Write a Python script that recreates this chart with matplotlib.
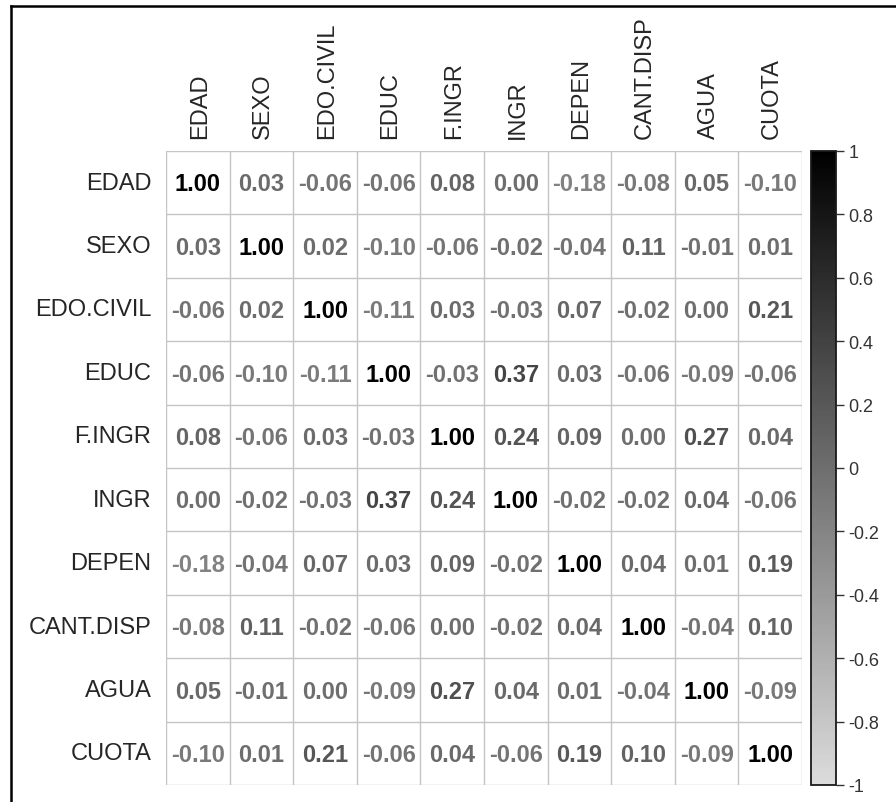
import numpy as np
import matplotlib
matplotlib.use("Agg")
import matplotlib.pyplot as plt
from matplotlib.colors import LinearSegmentedColormap, Normalize
from matplotlib.cm import ScalarMappable
from matplotlib.lines import Line2D

plt.rcParams["font.family"] = ["Liberation Sans", "DejaVu Sans"]
plt.rcParams["axes.unicode_minus"] = False

# variables and correlation matrix
variables = ["EDAD", "SEXO", "EDO.CIVIL", "EDUC", "F.INGR", "INGR",
             "DEPEN", "CANT.DISP", "AGUA", "CUOTA"]

r_edad = [1.00, 0.03, -0.06, -0.06, 0.08, 0.00, -0.18, -0.08, 0.05, -0.10]
r_sexo = [0.03, 1.00, 0.02, -0.10, -0.06, -0.02, -0.04, 0.11, -0.01, 0.01]
r_civil = [-0.06, 0.02, 1.00, -0.11, 0.03, -0.03, 0.07, -0.02, 0.00, 0.21]
r_educ = [-0.06, -0.10, -0.11, 1.00, -0.03, 0.37, 0.03, -0.06, -0.09, -0.06]
r_fingr = [0.08, -0.06, 0.03, -0.03, 1.00, 0.24, 0.09, 0.00, 0.27, 0.04]
r_ingr = [0.00, -0.02, -0.03, 0.37, 0.24, 1.00, -0.02, -0.02, 0.04, -0.06]
r_depen = [-0.18, -0.04, 0.07, 0.03, 0.09, -0.02, 1.00, 0.04, 0.01, 0.19]
r_cant = [-0.08, 0.11, -0.02, -0.06, 0.00, -0.02, 0.04, 1.00, -0.04, 0.10]
r_agua = [0.05, -0.01, 0.00, -0.09, 0.27, 0.04, 0.01, -0.04, 1.00, -0.09]
r_cuota = [-0.10, 0.01, 0.21, -0.06, 0.04, -0.06, 0.19, 0.10, -0.09, 1.00]

corr = np.array([r_edad, r_sexo, r_civil, r_educ, r_fingr,
                 r_ingr, r_depen, r_cant, r_agua, r_cuota])

cbar_ticks = [1, 0.8, 0.6, 0.4, 0.2, 0, -0.2, -0.4, -0.6, -0.8, -1]
cbar_labels = ["1", "0.8", "0.6", "0.4", "0.2", "0",
               "-0.2", "-0.4", "-0.6", "-0.8", "-1"]

W, H = 896, 803
cmap = LinearSegmentedColormap.from_list("greys", ["#dcdcdc", "#000000"])
norm = Normalize(-1, 1)
GRID = "#c4c4c4"
LABEL = "#262626"

fig = plt.figure(figsize=(W / 100, H / 100), dpi=100)

# pixel box -> figure fraction
def px_box(x0, y0, x1, y1):
    return [x0 / W, 1 - y1 / H, (x1 - x0) / W, (y1 - y0) / H]

ax = fig.add_axes(px_box(166, 152, 802, 786))
n = len(variables)
ax.set_xlim(0, n)
ax.set_ylim(n, 0)
for k in range(n + 1):
    ax.axhline(k, color=GRID, lw=1.0)
    ax.axvline(k, color=GRID, lw=1.0)

for i in range(n):
    for j in range(n):
        v = corr[i, j]
        ax.text(j + 0.5, i + 0.52, f"{v:.2f}", ha="center", va="center",
                fontsize=17, fontweight="bold", color=cmap(norm(v)))

ax.set_xticks([])
ax.set_yticks([])
for s in ax.spines.values():
    s.set_visible(False)

# row labels
for i, name in enumerate(variables):
    ax.text(-0.23, i + 0.5, name, ha="right", va="center",
            fontsize=17, color=LABEL)
# column labels
for j, name in enumerate(variables):
    ax.text(j + 0.53, -0.2, name, ha="center", va="bottom", rotation=90,
            fontsize=17, color=LABEL)

# colour legend
cax = fig.add_axes(px_box(811, 152, 836, 786))
sm = ScalarMappable(norm=norm, cmap=cmap)
cb = fig.colorbar(sm, cax=cax, ticks=cbar_ticks)
cb.ax.set_yticklabels(cbar_labels)
cb.outline.set_edgecolor("#1a1a1a")
cb.outline.set_linewidth(1.3)
cb.ax.tick_params(length=6, width=1.0, color="#333333", labelsize=13,
                  labelcolor="#333333", pad=3)

# frame of the screenshot (left and top edges)
fig.add_artist(Line2D([10.5 / W, 10.5 / W], [0, 1 - 6.5 / H],
                      transform=fig.transFigure, color="black", lw=1.8))
fig.add_artist(Line2D([10.5 / W, 1], [1 - 6.5 / H, 1 - 6.5 / H],
                      transform=fig.transFigure, color="black", lw=1.8))

fig.savefig("out.png", dpi=100, facecolor="white")
